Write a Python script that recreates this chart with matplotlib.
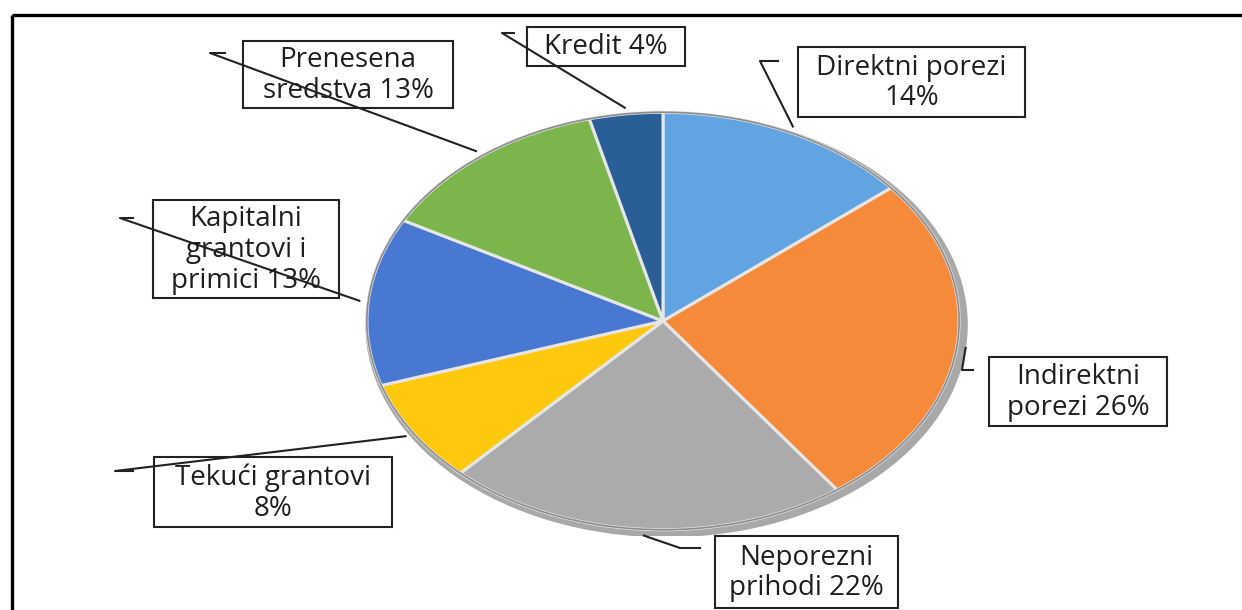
import numpy as np
import matplotlib.pyplot as plt
from matplotlib.patches import Rectangle, Ellipse

# slice data, clockwise from 12 o'clock
labels = ["Direktni porezi\n14%", "Indirektni\nporezi 26%", "Neporezni\nprihodi 22%",
          "Tekući grantovi\n8%", "Kapitalni\ngrantovi i\nprimici 13%",
          "Prenesena\nsredstva 13%", "Kredit 4%"]
values = [14, 26, 22, 8, 13, 13, 4]
colors = ["#62A3E2", "#F68A3B", "#ABABAB", "#FDC80E", "#4878D2", "#7BB54C", "#295E96"]

# label boxes in pixels (x0, y0, x1, y1), y measured from the top
boxes = [(798, 47, 1025, 117), (989, 357, 1167, 426), (715, 536, 898, 608),
         (154, 457, 392, 527), (153, 200, 339, 298), (243, 41, 453, 108),
         (527, 27, 685, 66)]
# far end of each leader line and its small tick
ends = [(760, 61, 778), (962, 370, 973), (680, 548, 700), (115, 471, 133),
        (120, 218, 133), (210, 53, 225), (502, 33, 514)]

W, H = 1242, 610
cx, cy, rx, ry = 663, 321, 305, 215

fig = plt.figure(figsize=(W / 100, H / 100), dpi=100)
fig.patch.set_facecolor("white")

pax = fig.add_axes([(cx - rx) / W, (H - cy - ry) / H, 2 * rx / W, 2 * ry / H])
pax.add_patch(Ellipse((0.012, -0.018), 2.03, 2.03, color="#A8A8A8", zorder=0))
wedges, _ = pax.pie(values, colors=colors, startangle=90, counterclock=False,
                    radius=1, wedgeprops=dict(edgecolor="#E6E6E6", linewidth=2.2))
pax.add_patch(Ellipse((0, 0), 2.0, 2.0, fill=False, edgecolor="#8C8C8C", lw=1.2))
pax.set_xlim(-1.03, 1.03)
pax.set_ylim(-1.03, 1.03)
pax.set_aspect("auto")
pax.axis("off")

ov = fig.add_axes([0, 0, 1, 1])
ov.set_xlim(0, W)
ov.set_ylim(H, 0)
ov.axis("off")

# frame (top and left edges only are visible)
ov.plot([12, W], [14.5, 14.5], color="black", lw=2.4, solid_capstyle="butt")
ov.plot([12, 12], [14.5, H], color="black", lw=2.4, solid_capstyle="butt")

for w, lab, (x0, y0, x1, y1), (ex, ey, tx) in zip(wedges, labels, boxes, ends):
    ang = np.deg2rad((w.theta1 + w.theta2) / 2)
    px = cx + rx * np.cos(ang)
    py = cy - ry * np.sin(ang)
    ov.add_patch(Rectangle((x0, y0), x1 - x0, y1 - y0, facecolor="white",
                           edgecolor="#222222", lw=1.5, zorder=2))
    ov.text((x0 + x1) / 2, (y0 + y1) / 2 + 1, lab, ha="center", va="center",
            fontsize=20, family="Open Sans", color="#1E1E1E",
            linespacing=1.12, zorder=3)
    ov.plot([px, ex, tx], [py, ey, ey], color="#222222", lw=1.5, zorder=4)

fig.savefig("out.png", dpi=100)
